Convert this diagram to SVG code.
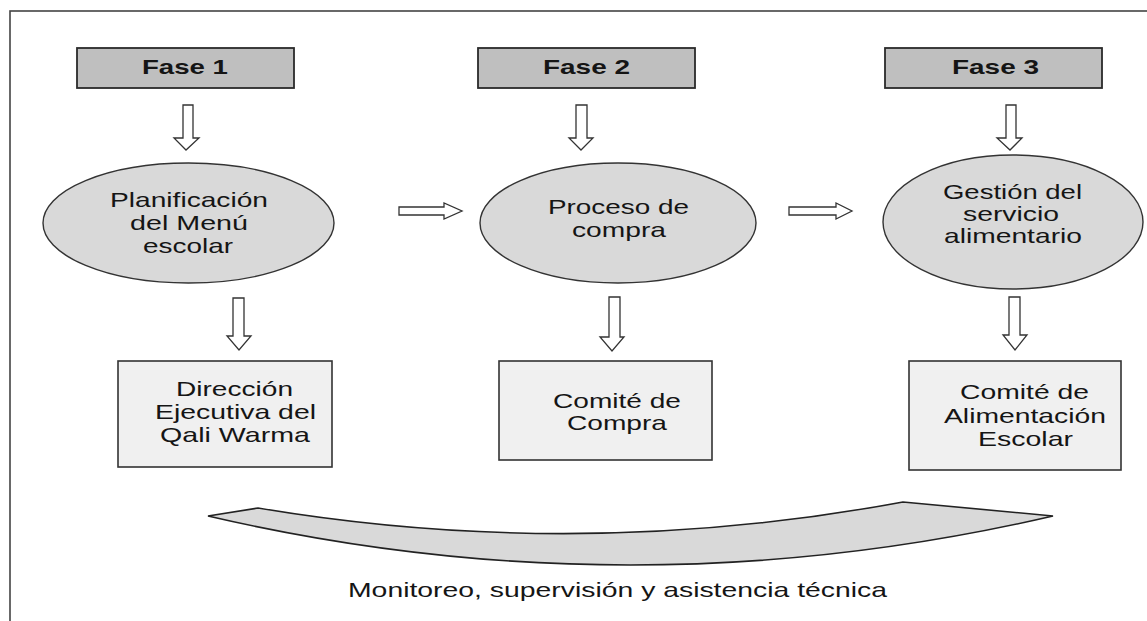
<svg xmlns="http://www.w3.org/2000/svg" width="1147" height="621" viewBox="0 0 1147 621">
<style>
.t{font-family:"Liberation Sans",Arial,sans-serif;font-size:21px;fill:#151515}
.b{font-family:"Liberation Sans",Arial,sans-serif;font-size:21px;font-weight:bold;fill:#151515}
.fase{fill:#bfbfbf;stroke:#2a2a2a;stroke-width:1.8}
.ell{fill:#d9d9d9;stroke:#333;stroke-width:1.4}
.box{fill:#f0f0f0;stroke:#333;stroke-width:1.6}
.arr{fill:#fff;stroke:#333;stroke-width:1.3;stroke-linejoin:miter}
</style>
<rect width="1147" height="621" fill="#fff"/>
<rect x="10" y="11" width="1160" height="640" fill="none" stroke="#444" stroke-width="1.6"/>

<g id="fase1"><rect class="fase" x="77" y="48" width="217" height="40"/><text class="b" x="142" y="74" textLength="86" lengthAdjust="spacingAndGlyphs">Fase 1</text></g>
<g id="fase2"><rect class="fase" x="478" y="48" width="217" height="40"/><text class="b" x="543" y="74" textLength="87" lengthAdjust="spacingAndGlyphs">Fase 2</text></g>
<g id="fase3"><rect class="fase" x="885" y="48" width="217" height="40"/><text class="b" x="952" y="74" textLength="87" lengthAdjust="spacingAndGlyphs">Fase 3</text></g>

<g id="planificacion"><ellipse class="ell" cx="188.5" cy="223" rx="145.5" ry="60"/>
<text class="t" x="110" y="207" textLength="158" lengthAdjust="spacingAndGlyphs">Planificación</text>
<text class="t" x="130" y="230" textLength="118" lengthAdjust="spacingAndGlyphs">del Menú</text>
<text class="t" x="143" y="253" textLength="90" lengthAdjust="spacingAndGlyphs">escolar</text></g>

<g id="proceso"><ellipse class="ell" cx="618" cy="223" rx="138" ry="60"/>
<text class="t" x="548" y="214" textLength="141" lengthAdjust="spacingAndGlyphs">Proceso de</text>
<text class="t" x="572" y="237" textLength="94" lengthAdjust="spacingAndGlyphs">compra</text></g>

<g id="gestion"><ellipse class="ell" cx="1013" cy="222" rx="130" ry="67"/>
<text class="t" x="943" y="199" textLength="139" lengthAdjust="spacingAndGlyphs">Gestión del</text>
<text class="t" x="963" y="221" textLength="96" lengthAdjust="spacingAndGlyphs">servicio</text>
<text class="t" x="944" y="243" textLength="138" lengthAdjust="spacingAndGlyphs">alimentario</text></g>

<g id="direccion"><rect class="box" x="118" y="361" width="214" height="106"/>
<text class="t" x="176" y="396" textLength="117" lengthAdjust="spacingAndGlyphs">Dirección</text>
<text class="t" x="155" y="419" textLength="161" lengthAdjust="spacingAndGlyphs">Ejecutiva del</text>
<text class="t" x="160" y="442" textLength="150" lengthAdjust="spacingAndGlyphs">Qali Warma</text></g>

<g id="comite-compra"><rect class="box" x="499" y="361" width="213" height="99"/>
<text class="t" x="553" y="408" textLength="128" lengthAdjust="spacingAndGlyphs">Comité de</text>
<text class="t" x="567" y="430" textLength="100" lengthAdjust="spacingAndGlyphs">Compra</text></g>

<g id="comite-alimentacion"><rect class="box" x="909" y="361" width="212" height="109"/>
<text class="t" x="960" y="399" textLength="129" lengthAdjust="spacingAndGlyphs">Comité de</text>
<text class="t" x="944" y="423" textLength="162" lengthAdjust="spacingAndGlyphs">Alimentación</text>
<text class="t" x="978" y="446" textLength="95" lengthAdjust="spacingAndGlyphs">Escolar</text></g>

<g id="monitoreo">
<path d="M208 516 L258 508 Q580 562 903 502 L1053 516 Q630 614 208 516 Z" fill="#d9d9d9" stroke="#222" stroke-width="1.6" stroke-linejoin="miter"/>
<text class="t" x="348" y="597" textLength="539" lengthAdjust="spacingAndGlyphs">Monitoreo, supervisión y asistencia técnica</text></g>

<g id="connectors">
<path class="arr" d="M183 105 H193 V138 H199 L186 150 L174 138 H183 Z"/>
<path class="arr" d="M576 105 H587 V138 H593 L581 150 L569 138 H576 Z"/>
<path class="arr" d="M1006 105 H1016 V138 H1022 L1010 150 L997 138 H1006 Z"/>
<path class="arr" d="M399 207 H444 V203 L462 211 L444 219 V215 H399 Z"/>
<path class="arr" d="M789 207 H836 V203 L852 211 L836 219 V215 H789 Z"/>
<path class="arr" d="M233 298 H244 V336 H251 L239 350 L227 336 H233 Z"/>
<path class="arr" d="M609 297 H620 V337 H624 L612 351 L600 337 H609 Z"/>
<path class="arr" d="M1009 297 H1020 V335 H1027 L1015 350 L1003 335 H1009 Z"/>
</g>
</svg>
